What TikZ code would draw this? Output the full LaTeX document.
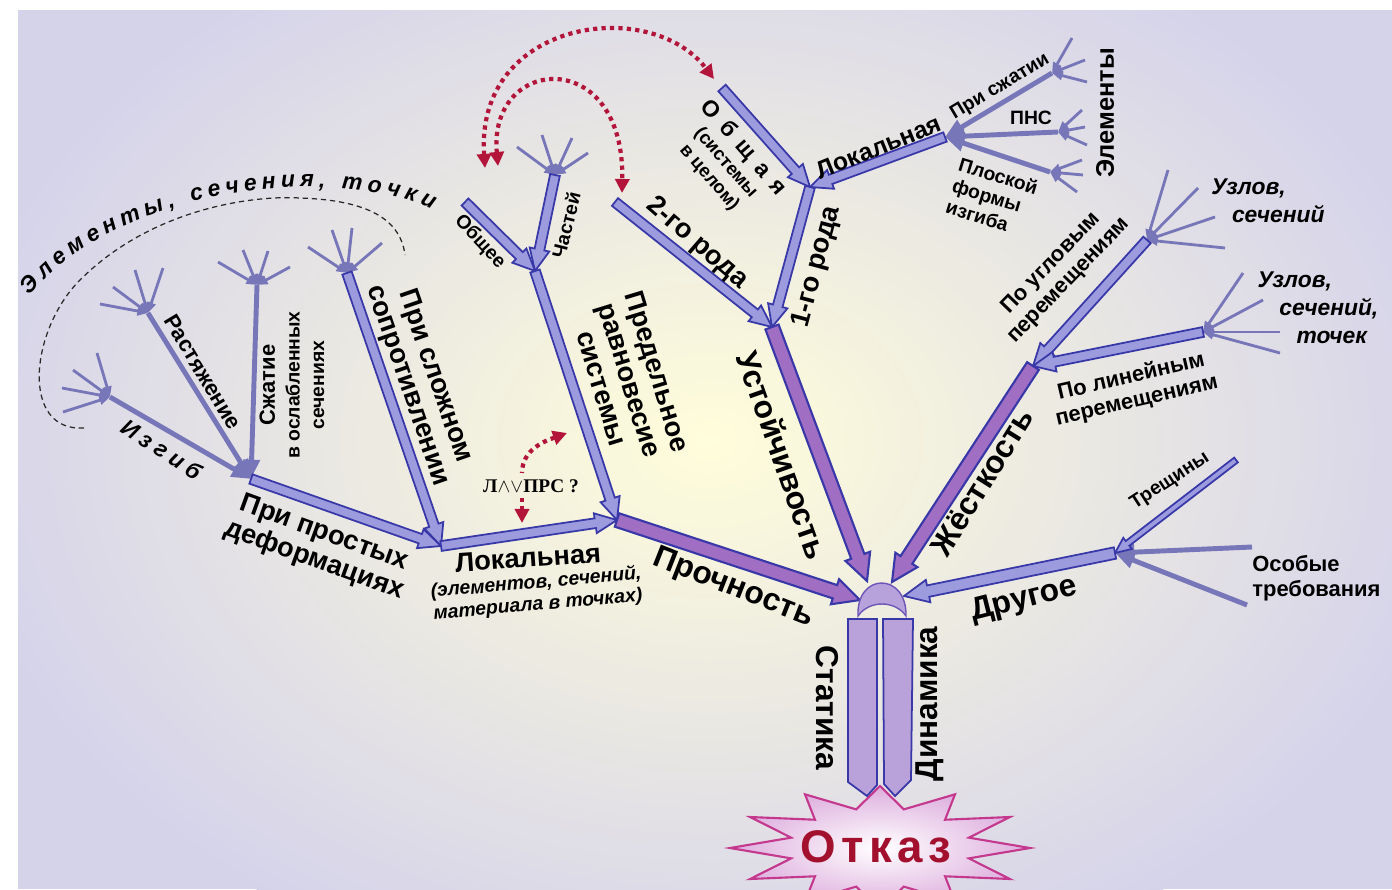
\documentclass[tikz,border=0pt]{standalone}
\usepackage{fontspec}
\setmainfont{Liberation Sans}
\newfontfamily\wideA[LetterSpace=25]{Liberation Sans}
\newfontfamily\wideB[LetterSpace=45]{Liberation Sans}
\newfontfamily\wideC[LetterSpace=12]{Liberation Sans}
\newfontfamily\serifcyr{Liberation Serif}
\usetikzlibrary{calc,arrows.meta,decorations.text,positioning}

\definecolor{bgedge}{HTML}{D5D3EA}
\definecolor{bgglow}{HTML}{FFFDDA}
\definecolor{edgeblue}{HTML}{3838A8}
\definecolor{armfill}{HTML}{9C9BDD}
\definecolor{mainfill}{HTML}{A06EC2}
\definecolor{twig}{HTML}{7776B8}
\definecolor{dotred}{HTML}{B3153A}
\definecolor{domefill}{HTML}{B8A2DC}
\definecolor{domeedge}{HTML}{6D56B8}
\definecolor{barfill}{HTML}{B9A1D9}
\definecolor{starpink}{HTML}{DDAEDD}
\definecolor{staredge}{HTML}{C4388E}
\definecolor{otkazred}{HTML}{A3102E}

% fat outlined arrow: style, from, to, half body, half head, head length
\newcommand{\fatarrow}[6]{
    \coordinate (hb) at ($(#3)!#6!(#2)$);
    \draw[#1] ($(#2)!#4!90:(#3)$) -- ($(hb)!#4!90:(#3)$)
    -- ($(hb)!#5!90:(#3)$) -- (#3)
    -- ($(hb)!#5!-90:(#3)$) -- ($(hb)!#4!-90:(#3)$)
    -- ($(#2)!#4!-90:(#3)$) -- cycle;
}
% small bundle of thin lines into a junction
\newcommand{\twigfan}[2]{
    \foreach \src in {#2} {
        \draw[fanline] (\src) -- (#1);
    }
}

\tikzset{
    mainarm/.style={draw=edgeblue, fill=mainfill, line width=1.2pt},
    arm/.style={draw=edgeblue, fill=armfill, line width=1pt},
    twigline/.style={draw=twig, line width=2.8pt, -{Triangle[length=11pt,width=9pt]}},
    fanline/.style={draw=twig, line width=1.6pt, -{Triangle[length=6pt,width=5pt]}},
    reddot/.style={draw=dotred, line width=2.4pt, dash pattern=on 2.4pt off 2.4pt,
        {Triangle[length=8pt,width=8pt]}-{Triangle[length=8pt,width=8pt]}},
    dashline/.style={draw=black!85, line width=0.7pt, dash pattern=on 3pt off 2.2pt},
    lblA/.style={font=\bfseries\fontsize{18}{20}\selectfont, inner sep=0pt},
    lblB/.style={font=\bfseries\fontsize{15.5}{16.5}\selectfont, inner sep=0pt, align=center},
    lblC/.style={font=\bfseries\fontsize{12.5}{14}\selectfont, inner sep=0pt, align=center},
    lblD/.style={font=\bfseries\fontsize{11}{12.5}\selectfont, inner sep=0pt, align=center},
    lblIt/.style={font=\bfseries\itshape\fontsize{13}{16}\selectfont, inner sep=0pt, align=left},
}

\begin{document}
\begin{tikzpicture}[x=0.02cm, y=-0.02cm]
    \useasboundingbox (0,0) rectangle (1392,889);
    \clip (0,0) rectangle (1392,889);
    \fill[white] (0,0) rectangle (1392,889);
    \fill[bgedge] (18,10) rectangle (1392,889);
    \begin{scope}
        \clip (18,10) rectangle (1392,889);
        \shade[inner color=bgglow, outer color=bgedge] (710,440) ellipse [x radius=760, y radius=560];
    \end{scope}

    % junctions
    \coordinate (jProch) at (617,520);
    \coordinate (jLocB) at (441,546);
    \coordinate (jPred) at (535,271);
    \coordinate (jPros) at (251,479);
    \coordinate (jSlozh) at (347,273);
    \coordinate (jObshee) at (465,202);
    \coordinate (jChast) at (555,175);
    \coordinate (jUst) at (772,327);
    \coordinate (j2) at (615,202);
    \coordinate (j1) at (810,187);
    \coordinate (jObsh) at (722,88);
    \coordinate (jLocT) at (945,137);
    \coordinate (jZh) at (1033,366);
    \coordinate (jUgl) at (1147,240);
    \coordinate (jLin) at (1203,332);
    \coordinate (jDrug) at (1115,553);
    \coordinate (jTr) at (1236,460);
    \coordinate (jIzg) at (110,397);
    \coordinate (jRast) at (148,313);
    \coordinate (jSzh) at (257,285);
    \coordinate (jPs) at (1052,73);
    \coordinate (jPns) at (1058,132);
    \coordinate (jPlosk) at (1050,172);
    \coordinate (jOs1) at (1252,547);
    \coordinate (jOs2) at (1247,605);
    % hub tips
    \coordinate (tProch) at (860,600);
    \coordinate (tUst) at (867,581);
    \coordinate (tZh) at (892,582);
    \coordinate (tDrug) at (904,596);

    % dashed loop and its text
    \draw[dashline] (84,428) .. controls (20,432) and (30,330) .. (80,280)
        .. controls (150,210) and (250,195) .. (300,198)
        .. controls (360,200) and (400,215) .. (405,255);
    \path[decorate, decoration={text along path, text align=fit to path,
        text={|\bfseries\itshape\fontsize{13}{15}\selectfont|Элементы, сечения, точки}}]
        (30,296) .. controls (85,228) and (190,190) .. (300,187)
        .. controls (360,187) and (405,195) .. (432,210);

    % red links
    \draw[reddot] (485,168) .. controls (475,20) and (650,-5) .. (714,79);
    \draw[reddot] (498,166) .. controls (488,55) and (625,45) .. (622,193);

    % twigs and fans, left
    \draw[twigline] (jIzg) -- (jPros);
    \draw[twigline] (jRast) -- (jPros);
    \draw[twigline] (jSzh) -- (jPros);
    \twigfan{jIzg}{{62,388},{63,412},{73,370},{97,353}}
    \twigfan{jRast}{{100,304},{113,287},{135,270},{163,268}}
    \twigfan{jSzh}{{218,262},{243,250},{268,251},{290,267}}
    \twigfan{jSlozh}{{308,247},{332,230},{352,228},{382,243}}
    \twigfan{jChast}{{517,147},{542,135},{572,138},{588,153}}
    % twigs and fans, right
    \draw[twigline] (jPs) -- (jLocT);
    \draw[twigline] (jPns) -- (jLocT);
    \draw[twigline] (jPlosk) -- (jLocT);
    \twigfan{jPs}{{1072,38},{1085,60},{1087,82}}
    \twigfan{jPns}{{1082,110},{1085,127},{1087,145}}
    \twigfan{jPlosk}{{1082,160},{1083,175},{1077,192}}
    \twigfan{jUgl}{{1168,170},{1198,188},{1215,217},{1225,248}}
    \twigfan{jLin}{{1243,273},{1263,300},{1280,332},{1280,353}}
    \draw[twigline] (jOs1) -- (jDrug);
    \draw[twigline] (jOs2) -- (jDrug);

    % arms
    \fatarrow{arm}{jPros}{jLocB}{2.8pt}{5.7pt}{12.5pt}
    \fatarrow{arm}{jSlozh}{jLocB}{2.8pt}{5.7pt}{12.5pt}
    \fatarrow{arm}{jLocB}{jProch}{2.8pt}{5.7pt}{12.5pt}
    \fatarrow{arm}{jObshee}{jPred}{2.8pt}{5.7pt}{12.5pt}
    \fatarrow{arm}{jChast}{jPred}{2.8pt}{5.7pt}{12.5pt}
    \fatarrow{arm}{jPred}{jProch}{2.8pt}{5.7pt}{12.5pt}
    \fatarrow{arm}{j2}{jUst}{2.8pt}{5.7pt}{12.5pt}
    \fatarrow{arm}{jObsh}{j1}{2.8pt}{5.7pt}{12.5pt}
    \fatarrow{arm}{jLocT}{j1}{2.8pt}{5.7pt}{12.5pt}
    \fatarrow{arm}{j1}{jUst}{2.8pt}{5.7pt}{12.5pt}
    \fatarrow{arm}{jUgl}{jZh}{2.8pt}{5.7pt}{12.5pt}
    \fatarrow{arm}{jLin}{jZh}{2.8pt}{5.7pt}{12.5pt}
    \fatarrow{arm}{jTr}{jDrug}{1.7pt}{4pt}{9pt}
    \fatarrow{arm}{jDrug}{tDrug}{3.3pt}{6.5pt}{14pt}
    \fatarrow{mainarm}{jProch}{tProch}{4pt}{7.5pt}{15pt}
    \fatarrow{mainarm}{jUst}{tUst}{4pt}{7.5pt}{15pt}
    \fatarrow{mainarm}{jZh}{tZh}{4pt}{7.5pt}{15pt}

    % failure star
    \shadedraw[inner color=white, outer color=starpink, draw=staredge, line width=1.2pt]
        (1030,848) \foreach \k in {1,...,23} {
            -- ({880+(mod(\k,2)==0 ? 150 : 92)*cos(\k*15)}, {848-(mod(\k,2)==0 ? 62 : 40)*sin(\k*15)})
        } -- cycle;
    \node[font=\wideC\bfseries\fontsize{26}{28}\selectfont, text=otkazred] (lOtkaz) at (876,847) {Отказ};

    % hub and legs
    \draw[fill=barfill, draw=edgeblue, line width=1pt]
        (848,619) -- (877,619) -- (877,785) -- (867,796) -- (848,782) -- cycle;
    \draw[fill=barfill, draw=edgeblue, line width=1pt]
        (883,619) -- (913,619) -- (911,780) -- (895,796) -- (884,784) -- cycle;
    \draw[fill=domefill, draw=domeedge, line width=0.8pt]
        (858,616) .. controls (856,572) and (907,572) .. (906,616)
        .. controls (895,600) and (869,600) .. cycle;

    % main labels
    \node[lblA, rotate=-21.5] (lProch) at (733,588) {Прочность};
    \node[lblA, rotate=-70.5] (lUst) at (783,455) {Устойчивость};
    \node[lblA, rotate=58] (lZh) at (982,482) {Жёсткость};
    \node[lblA, rotate=14] (lDrug) at (1024,600) {Другое};
    \node[lblA, rotate=-90] (lStat) at (827,708) {Статика};
    \node[lblA, rotate=90] (lDyn) at (930,704) {Динамика};

    % left labels
    \node[lblB, rotate=4] (lLocB) at (528,558) {Локальная};
    \node[lblIt, align=center, font=\bfseries\itshape\fontsize{11}{12.5}\selectfont, rotate=5]
        (lLocBsub) at (537,594) {(элементов, сечений,\\материала в точках)};
    \node[lblB, rotate=-20] (lPros) at (319,547) {При простых\\деформациях};
    \node[lblB, rotate=-71] (lSlozh) at (421,381) {При сложном\\сопротивлении};
    \node[lblB, rotate=-73] (lPred) at (630,380) {Предельное\\равновесие\\системы};
    \node[lblC, rotate=-59] (lRast) at (203,372) {Растяжение};
    \node[lblC, rotate=90] (lSzh) at (292,385)
        {Сжатие\\\fontsize{11}{12.5}\selectfont в ослабленных\\\fontsize{11}{12.5}\selectfont сечениях};
    \node[font=\wideA\bfseries\itshape\fontsize{13}{15}\selectfont, rotate=-33] (lIzg) at (162,449) {Изгиб};
    \node[lblD, rotate=-47] (lObshee) at (480,242) {Общее};
    \node[lblD, rotate=76] (lChast) at (566,225) {Частей};
    \node[font=\serifcyr\bfseries\fontsize{11}{12}\selectfont] (lPrs) at (531,486) {Л$\wedge\vee$ПРС ?};
    \coordinate (prsUp) at (567,433);
    \coordinate (prsDn) at (522,523);
    \draw[reddot, {Triangle[length=8pt,width=8pt]}-] (prsUp) to[out=200,in=90] (522,473);
    \draw[reddot, -{Triangle[length=8pt,width=8pt]}] (522,498) -- (prsDn);

    % upper labels
    \node[lblB, rotate=-41] (l2) at (697,243) {2-го рода};
    \node[lblB, rotate=75] (l1) at (817,267) {1-го рода};
    \node[lblD, rotate=-49] (lObsh) at (727,162)
        {{\wideB\fontsize{13}{14}\selectfont Общая}\\\fontsize{10.5}{12}\selectfont (системы\\\fontsize{10.5}{12}\selectfont в целом)};
    \node[lblC, font=\bfseries\fontsize{14}{16}\selectfont, rotate=22] (lLocT) at (879,147) {Локальная};
    \node[lblD, rotate=31] (lPs) at (1000,87) {При сжатии};
    \node[lblD] (lPns) at (1031,118) {ПНС};
    \node[lblD, align=left, rotate=-17] (lPlosk) at (992,197) {Плоской\\формы\\изгиба};
    \node[lblA, font=\bfseries\fontsize{14.5}{16}\selectfont, rotate=90] (lElem) at (1105,113) {Элементы};

    % right labels
    \node[lblC, rotate=46] (lUgl) at (1060,272) {По угловым\\перемещениям};
    \node[lblC, rotate=13] (lLin) at (1134,389) {По линейным\\перемещениям};
    \node[lblIt] (lUzl1) at (1268,201) {Узлов,\\\hspace*{0.9em}сечений};
    \node[lblIt] (lUzl2) at (1318,308) {Узлов,\\\hspace*{0.95em}сечений,\\\hspace*{1.7em}точек};
    \node[lblD, rotate=33] (lTr) at (1170,481) {Трещины};
    \node[lblC, align=left, anchor=west] (lOsob) at (1252,578) {Особые\\требования};
\end{tikzpicture}
\end{document}
